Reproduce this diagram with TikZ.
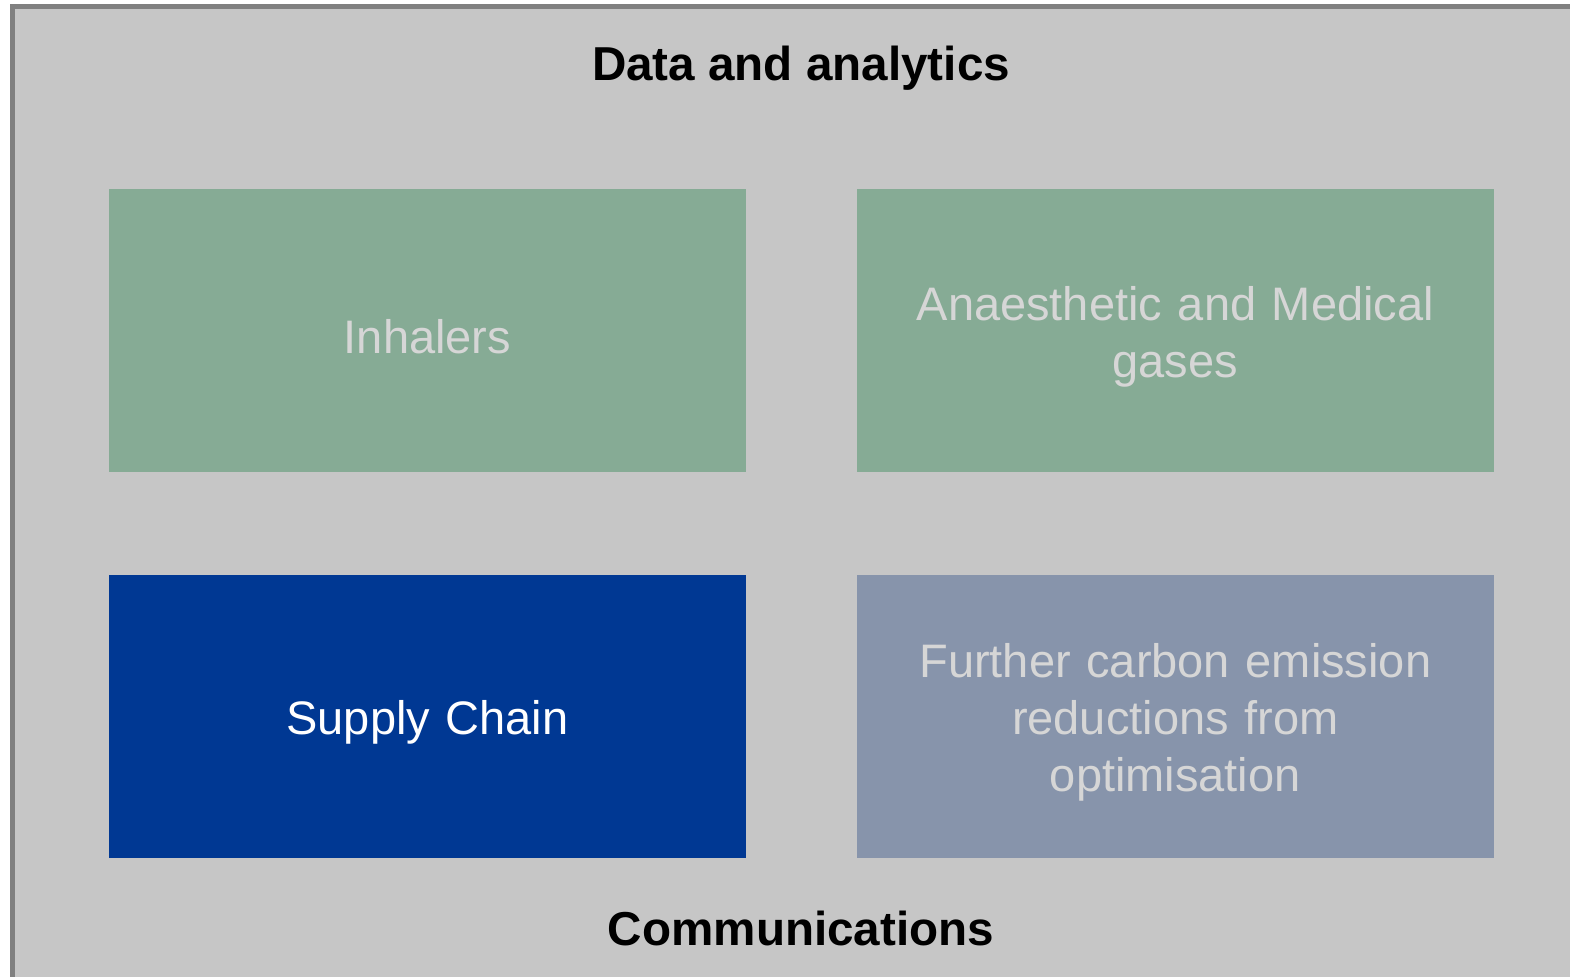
\documentclass[tikz,border=0pt]{standalone}
\usepackage{fontspec}
\setmainfont{Liberation Sans}
\usetikzlibrary{positioning}
\definecolor{panelgrey}{HTML}{C6C6C6}
\definecolor{framegrey}{HTML}{808080}
\definecolor{sagegreen}{HTML}{86AB95}
\definecolor{nhsblue}{HTML}{003893}
\definecolor{slateblue}{HTML}{8794AB}
\definecolor{fadedtext}{HTML}{D6D6D6}

\begin{document}
\begin{tikzpicture}[x=0.5pt, y=-0.5pt]
% Define styles
\tikzstyle{area} = [rectangle, minimum width=318.5pt, minimum height=141.5pt, text width=300pt, align=center, font=\fontsize{23.5}{28.5}\selectfont, inner sep=0pt, text height=23pt]
\tikzstyle{greyed} = [area, fill=sagegreen, text=fadedtext]
\tikzstyle{active} = [area, fill=nhsblue, text=white]
\tikzstyle{later} = [area, fill=slateblue, text=fadedtext]
\tikzstyle{heading} = [font=\fontsize{23.8}{28.5}\selectfont\bfseries]

\useasboundingbox (0,0) rectangle (1570,977);
\begin{scope}
\clip (0,0) rectangle (1570,977);
\draw[framegrey, fill=panelgrey, line width=2.5pt] (12.5,6.5) rectangle (1590,1000);
\end{scope}

% Nodes
\node (inhalers) [greyed] at (427.5,330.5) {Inhalers};
\node (gases) [greyed, right=55pt of inhalers] {Anaesthetic and Medical\\gases};
\node (supply) [active, below=51pt of inhalers] {Supply Chain};
\node (further) [later, below=51pt of gases] {Further carbon emission\\reductions from\\optimisation};

\node (data) [heading] at (801,68) {Data and analytics};
\node (comms) [heading] at (801,928) {Communications};
\end{tikzpicture}
\end{document}
